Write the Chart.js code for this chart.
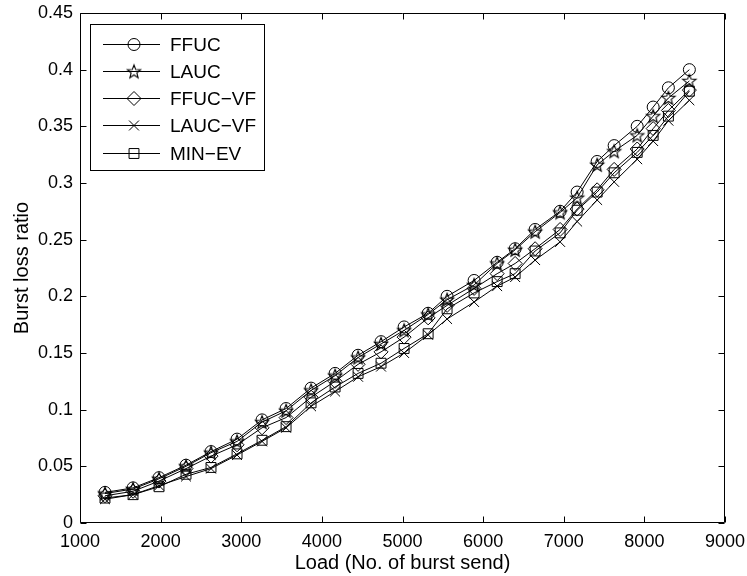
<!DOCTYPE html>
<html>
<head>
<meta charset="utf-8">
<script src="https://cdn.jsdelivr.net/npm/chart.js@4/dist/chart.umd.min.js"></script>
<style>
  html, body { margin: 0; padding: 0; background: #fff; }
  canvas { display: block; }
</style>
</head>
<body>
<canvas id="chart" width="747" height="576"></canvas>
<script>
// Offered load (number of bursts sent)
const loads = [1310, 1658, 1980, 2315, 2625, 2948, 3258, 3556, 3866, 4164, 4449, 4734, 5020, 5318,
               5553, 5888, 6174, 6397, 6645, 6955, 7166, 7414, 7625, 7911, 8109, 8298, 8558];

// Burst loss ratio per scheduling scheme
const ffuc   = [0.027, 0.031, 0.040, 0.051, 0.063, 0.074, 0.091, 0.101, 0.119, 0.132, 0.148, 0.160, 0.173, 0.185,
                0.200, 0.214, 0.230, 0.242, 0.259, 0.275, 0.292, 0.319, 0.333, 0.350, 0.367, 0.384, 0.400];
const lauc   = [0.026, 0.030, 0.039, 0.050, 0.062, 0.072, 0.089, 0.099, 0.117, 0.130, 0.146, 0.158, 0.170, 0.184,
                0.197, 0.210, 0.229, 0.241, 0.257, 0.274, 0.287, 0.316, 0.328, 0.342, 0.359, 0.375, 0.390];
const ffucVf = [0.024, 0.028, 0.037, 0.048, 0.059, 0.069, 0.084, 0.093, 0.111, 0.125, 0.140, 0.151, 0.164, 0.181,
                0.192, 0.207, 0.220, 0.229, 0.242, 0.259, 0.277, 0.294, 0.312, 0.330, 0.348, 0.364, 0.382];
const laucVf = [0.021, 0.025, 0.033, 0.041, 0.048, 0.060, 0.072, 0.084, 0.103, 0.116, 0.129, 0.138, 0.150, 0.166,
                0.180, 0.195, 0.209, 0.217, 0.232, 0.248, 0.266, 0.285, 0.301, 0.321, 0.337, 0.355, 0.373];
const minEv  = [0.022, 0.025, 0.032, 0.043, 0.049, 0.061, 0.073, 0.085, 0.106, 0.120, 0.132, 0.141, 0.154, 0.167,
                0.189, 0.203, 0.213, 0.220, 0.240, 0.256, 0.276, 0.292, 0.309, 0.327, 0.342, 0.359, 0.381];

const seriesNames = ['FFUC', 'LAUC', 'FFUC\u2212VF', 'LAUC\u2212VF', 'MIN\u2212EV'];
const seriesValues = [ffuc, lauc, ffucVf, laucVf, minEv];

// Axis ticks
const xTickValues = [1000, 2000, 3000, 4000, 5000, 6000, 7000, 8000, 9000];
const yTickValues = [0, 0.05, 0.1, 0.15, 0.2, 0.25, 0.3, 0.35, 0.4, 0.45];

const FONT = '"Liberation Sans", Arial, Helvetica, sans-serif';

// Five-pointed star marker (pentagram)
function makeStar(outer, inner) {
  const size = Math.ceil(outer * 2 + 4);
  const c = document.createElement('canvas');
  c.width = size; c.height = size;
  const g = c.getContext('2d');
  g.strokeStyle = '#000';
  g.lineWidth = 1.1;
  g.beginPath();
  for (let i = 0; i < 10; i++) {
    const r = i % 2 === 0 ? outer : inner;
    const a = -Math.PI / 2 + i * Math.PI / 5;
    const px = size / 2 + r * Math.cos(a);
    const py = size / 2 + 0.5 + r * Math.sin(a);
    if (i === 0) g.moveTo(px, py); else g.lineTo(px, py);
  }
  g.closePath();
  g.stroke();
  return c;
}

const markers = [
  { pointStyle: 'circle',   radius: 6 },
  { pointStyle: makeStar(7, 3), radius: 7 },
  { pointStyle: 'rectRot',  radius: 7 },
  { pointStyle: 'crossRot', radius: 7 },
  { pointStyle: 'rect',     radius: 7 }
];

const datasets = seriesNames.map((name, i) => ({
  label: name,
  data: loads.map((x, j) => ({ x: x, y: seriesValues[i][j] })),
  borderColor: '#000',
  borderWidth: 1,
  backgroundColor: 'rgba(0,0,0,0)',
  pointStyle: markers[i].pointStyle,
  pointRadius: markers[i].radius,
  pointHoverRadius: markers[i].radius,
  pointBorderColor: '#000',
  pointBackgroundColor: 'rgba(0,0,0,0)',
  pointBorderWidth: 1,
  showLine: true,
  tension: 0,
  fill: false
}));

// Box around the axes with inward-pointing tick marks on every side
const framePlugin = {
  id: 'frame',
  afterDatasetsDraw(chart) {
    const { ctx, chartArea: a, scales } = chart;
    const L = Math.round(a.left) + 0.5, R = Math.round(a.right) - 0.5;
    const T = Math.round(a.top) + 0.5, B = Math.round(a.bottom) - 0.5;
    const len = 6;
    ctx.save();
    ctx.strokeStyle = '#000';
    ctx.lineWidth = 1;
    ctx.beginPath();
    ctx.rect(L, T, R - L, B - T);
    scales.x.ticks.forEach(t => {
      const px = Math.round(scales.x.getPixelForValue(t.value)) + 0.5;
      ctx.moveTo(px, B); ctx.lineTo(px, B - len);
      ctx.moveTo(px, T); ctx.lineTo(px, T + len);
    });
    scales.y.ticks.forEach(t => {
      const py = Math.round(scales.y.getPixelForValue(t.value)) + 0.5;
      ctx.moveTo(L, py); ctx.lineTo(L + len, py);
      ctx.moveTo(R, py); ctx.lineTo(R - len, py);
    });
    ctx.stroke();
    ctx.restore();
  }
};

// Legend box: line segment with its marker, then the series name
const legendPlugin = {
  id: 'lineLegend',
  afterDraw(chart) {
    const { ctx } = chart;
    const box = { left: 90.5, top: 24.5, right: 264.5, bottom: 170.5 };
    const rowY0 = 43.5, rowStep = 27.3;
    ctx.save();
    ctx.fillStyle = '#fff';
    ctx.fillRect(box.left, box.top, box.right - box.left, box.bottom - box.top);
    ctx.strokeStyle = '#000';
    ctx.lineWidth = 1;
    ctx.strokeRect(box.left, box.top, box.right - box.left, box.bottom - box.top);
    chart.data.datasets.forEach((ds, i) => {
      const y = Math.round(rowY0 + i * rowStep) + 0.5;
      ctx.beginPath();
      ctx.strokeStyle = '#000';
      ctx.lineWidth = 1;
      ctx.moveTo(103, y);
      ctx.lineTo(160, y);
      ctx.stroke();
      ctx.fillStyle = 'rgba(0,0,0,0)';
      ctx.strokeStyle = '#000';
      Chart.helpers.drawPoint(ctx, {
        pointStyle: ds.pointStyle,
        radius: ds.pointRadius,
        rotation: 0,
        borderWidth: 1
      }, 134, y);
      ctx.fillStyle = '#000';
      ctx.font = '19px ' + FONT;
      ctx.textAlign = 'left';
      ctx.textBaseline = 'middle';
      ctx.fillText(ds.label, 170, y + 1);
    });
    ctx.restore();
  }
};

new Chart(document.getElementById('chart'), {
  type: 'scatter',
  data: { datasets },
  options: {
    responsive: false,
    animation: false,
    events: [],
    layout: { padding: { left: 0, right: 22, top: 13, bottom: 0 } },
    plugins: {
      legend: { display: false },
      tooltip: { enabled: false }
    },
    scales: {
      x: {
        type: 'linear',
        min: xTickValues[0],
        max: xTickValues[xTickValues.length - 1],
        afterBuildTicks: s => { s.ticks = xTickValues.map(v => ({ value: v })); },
        afterFit: s => { s.height = 53; s.paddingLeft = 0; s.paddingRight = 0; },
        grid: { display: false, drawTicks: false },
        border: { display: false },
        ticks: {
          color: '#000',
          padding: 8,
          font: { family: FONT, size: 18 },
          maxRotation: 0,
          callback: v => String(v)
        },
        title: {
          display: true,
          text: 'Load (No. of burst send)',
          color: '#000',
          font: { family: FONT, size: 20 },
          padding: { top: 0, bottom: 1 }
        }
      },
      y: {
        type: 'linear',
        min: yTickValues[0],
        max: yTickValues[yTickValues.length - 1],
        afterBuildTicks: s => { s.ticks = yTickValues.map(v => ({ value: v })); },
        afterFit: s => { s.width = 80; s.paddingTop = 0; s.paddingBottom = 0; },
        grid: { display: false, drawTicks: false },
        border: { display: false },
        ticks: {
          color: '#000',
          padding: 7,
          font: { family: FONT, size: 18 },
          callback: v => String(Number(v.toFixed(2)))
        },
        title: {
          display: true,
          text: 'Burst loss ratio',
          color: '#000',
          font: { family: FONT, size: 20 },
          padding: { top: 10, bottom: 0 }
        }
      }
    }
  },
  plugins: [framePlugin, legendPlugin]
});
</script>
</body>
</html>
